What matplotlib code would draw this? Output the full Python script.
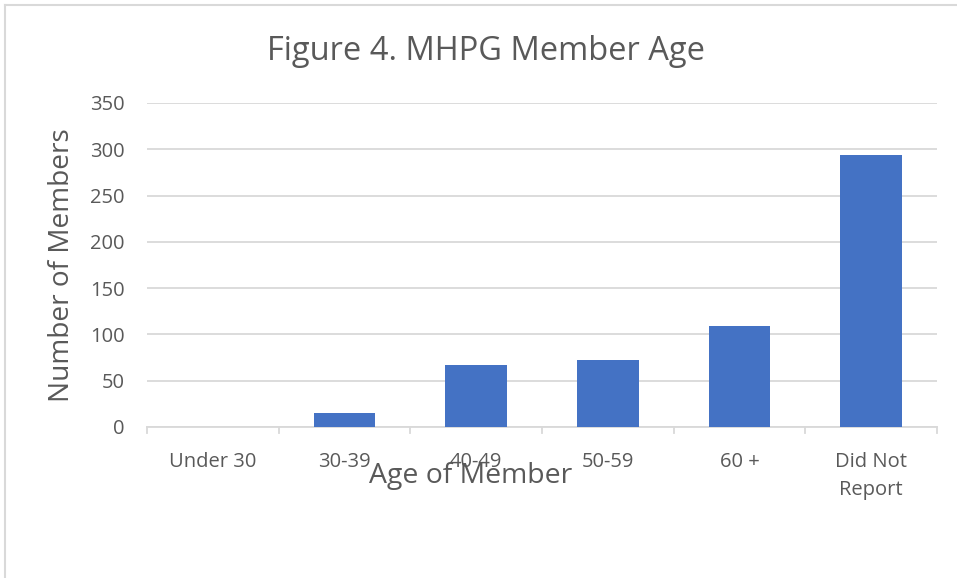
import matplotlib.pyplot as plt
from matplotlib.lines import Line2D

# data
categories = ['Under 30', '30-39', '40-49', '50-59', '60 +', 'Did Not\nReport']
members = [0, 15, 67, 72, 109, 294]
y_ticks = [0, 50, 100, 150, 200, 250, 300, 350]

text_color = '#595959'
grid_color = '#d9d9d9'
bar_color = '#4472C4'

plt.rcParams['font.family'] = ['Open Sans', 'DejaVu Sans']

fig = plt.figure(figsize=(9.57, 5.78), dpi=100)
ax = fig.add_axes([147 / 957, 1 - 427 / 578, 790 / 957, 324 / 578])

x = range(len(categories))
ax.bar(x, members, width=0.47, color=bar_color, zorder=3)

ax.set_xlim(-0.5, len(categories) - 0.5)
ax.set_ylim(0, 350)
ax.set_yticks(y_ticks)
ax.set_xticks(list(x))
ax.set_xticklabels(categories, fontsize=14.5, color=text_color, linespacing=1.55)
ax.tick_params(axis='y', length=0, labelsize=14.5, labelcolor=text_color, pad=16)
ax.tick_params(axis='x', length=0, pad=18)

# category separators on x-axis
for b in [i - 0.5 for i in range(len(categories) + 1)]:
    ax.plot([b, b], [0, -7], color=grid_color, lw=1.3, clip_on=False, zorder=2)

ax.grid(axis='y', color=grid_color, lw=1.3, zorder=0)
for s in ['top', 'right', 'left']:
    ax.spines[s].set_visible(False)
ax.spines['bottom'].set_color(grid_color)
ax.spines['bottom'].set_linewidth(1.3)

# the axis title sits over the tick labels, as in the original chart
fig.text(486 / 957, 1 - 51 / 578, 'Figure 4. MHPG Member Age', ha='center', va='center',
         fontsize=23.5, color=text_color)
fig.text(62 / 957, 1 - 265 / 578, 'Number of Members', ha='center', va='center',
         rotation=90, fontsize=20.2, color=text_color)
fig.text(471 / 957, 1 - 476 / 578, 'Age of Member', ha='center', va='center',
         fontsize=20.4, color=text_color)

# chart frame (left and top edges visible)
fig.add_artist(Line2D([5 / 957, 5 / 957], [0, 1 - 5 / 578], color='#d9d9d9', lw=1.5,
                      transform=fig.transFigure))
fig.add_artist(Line2D([5 / 957, 1], [1 - 5 / 578, 1 - 5 / 578], color='#d9d9d9', lw=1.5,
                      transform=fig.transFigure))

fig.savefig('out.png', dpi=100)
